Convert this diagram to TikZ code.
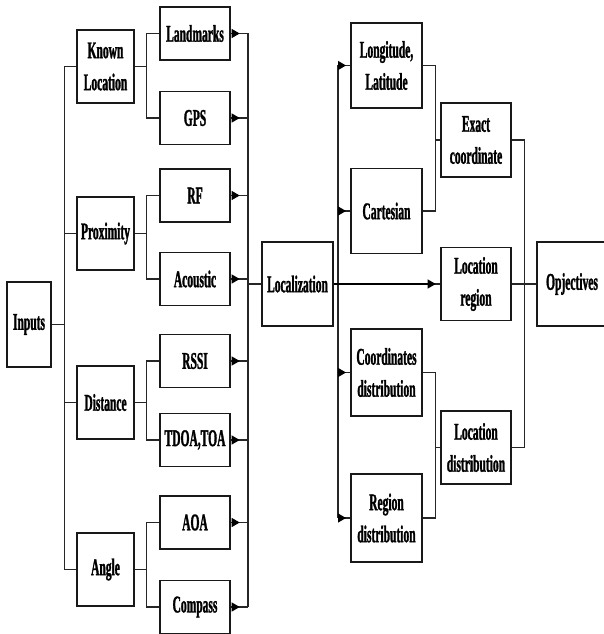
\documentclass[tikz,border=0pt]{standalone}
\usepackage{fontspec}
\setmainfont{Liberation Serif}[FakeStretch=0.48,FakeBold=1.2]
\usetikzlibrary{arrows.meta}
\begin{document}
\begin{tikzpicture}[x=1pt,y=-1pt,
  box/.style={draw=black!90,line width=1.4pt,fill=white,inner sep=0pt,align=center,
    font=\fontsize{24}{32}\selectfont\bfseries},
  lone/.style={box,minimum width=57pt,minimum height=73pt},
  ltwo/.style={box,minimum width=70pt,minimum height=53pt},
  rbox/.style={box,minimum width=71pt,minimum height=85pt},
  rmid/.style={box,minimum width=70pt,minimum height=73pt},
  wire/.style={draw=black!85,line width=1.1pt},
  tipped/.style={draw=black,line width=1.1pt,-{Triangle[length=8pt,width=9pt]}}]
\useasboundingbox (0,0) rectangle (604,634);
\begin{scope}
\clip (0,0) rectangle (604,634);
% inputs and their groups
\node[box,minimum width=44pt,minimum height=85pt] (inputs) at (29,324.5) {Inputs};
\node[lone] (known) at (105.5,66.5) {Known\\Location};
\node[lone] (prox)  at (105.5,233.5) {Proximity};
\node[lone] (dist)  at (105.5,402.5) {Distance};
\node[lone] (angle) at (105.5,569.5) {Angle};
% methods
\node[ltwo] (land)  at (195,33.5) {Landmarks};
\node[ltwo] (gps)   at (195,118) {GPS};
\node[ltwo] (rf)    at (195,195.5) {RF};
\node[ltwo] (acou)  at (195,279) {Acoustic};
\node[ltwo] (rssi)  at (195,361) {RSSI};
\node[ltwo] (tdoa)  at (195,440) {TDOA,TOA};
\node[ltwo] (aoa)   at (195,522.5) {AOA};
\node[ltwo] (comp)  at (195,607) {Compass};
% localization
\node[box,minimum width=71pt,minimum height=84pt] (loc) at (297.5,284) {Localization};
% representations
\node[rbox] (lonlat) at (386.5,65.5) {Longitude,\\Latitude};
\node[rbox] (cart)   at (386.5,211) {Cartesian};
\node[rbox,minimum height=87pt] (cdist) at (386.5,372.5) {Coordinates\\distribution};
\node[rbox,minimum height=88pt] (rdist) at (386.5,518) {Region\\distribution};
% outcomes
\node[rmid,minimum height=74pt] (exact) at (476,140) {Exact\\coordinate};
\node[rmid] (lreg)  at (476,284) {Location\\region};
\node[rmid] (ldist) at (476,447.5) {Location\\distribution};
\node[box,minimum width=80pt,minimum height=84pt] (obj) at (577,284) {\hspace*{-10pt}Opjectives};

% left bus
\foreach \n in {known,prox,dist,angle}
  \draw[wire] (inputs.east) -- ++(13,0) |- (\n.west);
% group branches
\draw[wire] (known.east) -- ++(12,0) |- (land.west);
\draw[wire] (known.east) -- ++(12,0) |- (gps.west);
\draw[wire] (prox.east) -- ++(12,0) |- (rf.west);
\draw[wire] (prox.east) -- ++(12,0) |- (acou.west);
\draw[wire] (dist.east) -- ++(12,0) |- (rssi.west);
\draw[wire] (dist.east) -- ++(12,0) |- (tdoa.west);
\draw[wire] (angle.east) -- ++(12,0) |- (aoa.west);
\draw[wire] (angle.east) -- ++(12,0) |- (comp.west);
% collecting bus into localization
\coordinate (busa) at (248,284);
\foreach \n in {land,gps,rf,acou,rssi,tdoa,aoa,comp}{
  \draw[wire] (\n.east) -- (\n.east -| busa);
  \draw[tipped] (\n.east) ++(1,0) -- ++(8,0);
}
\draw[wire] (land.east -| busa) -- (comp.east -| busa);
\draw[wire] (busa) -- (loc.west);
% distributing bus out of localization
\coordinate (busb) at (338,284);
\draw[wire] (lonlat.west -| busb) -- (rdist.west -| busb);
\foreach \n in {lonlat,cart,cdist,rdist}{
  \draw[wire] (\n.west -| busb) -- (\n.west);
  \draw[tipped] (\n.west -| busb) -- ++(8,0);
}
\draw[wire] (loc.east) -- (lreg.west);
\draw[tipped] (loc.east) -- ++(102,0);
% merging representations
\draw[wire] (lonlat.east) -- ++(13,0) |- (exact.west);
\draw[wire] (cart.east) -- ++(13,0) |- (exact.west);
\draw[wire] (cdist.east) -- ++(13,0) |- (ldist.west);
\draw[wire] (rdist.east) -- ++(13,0) |- (ldist.west);
% objectives
\draw[wire] (exact.east) -- ++(13,0) |- (ldist.east);
\draw[wire] (lreg.east) -- (obj.west);
\end{scope}
\end{tikzpicture}
\end{document}
